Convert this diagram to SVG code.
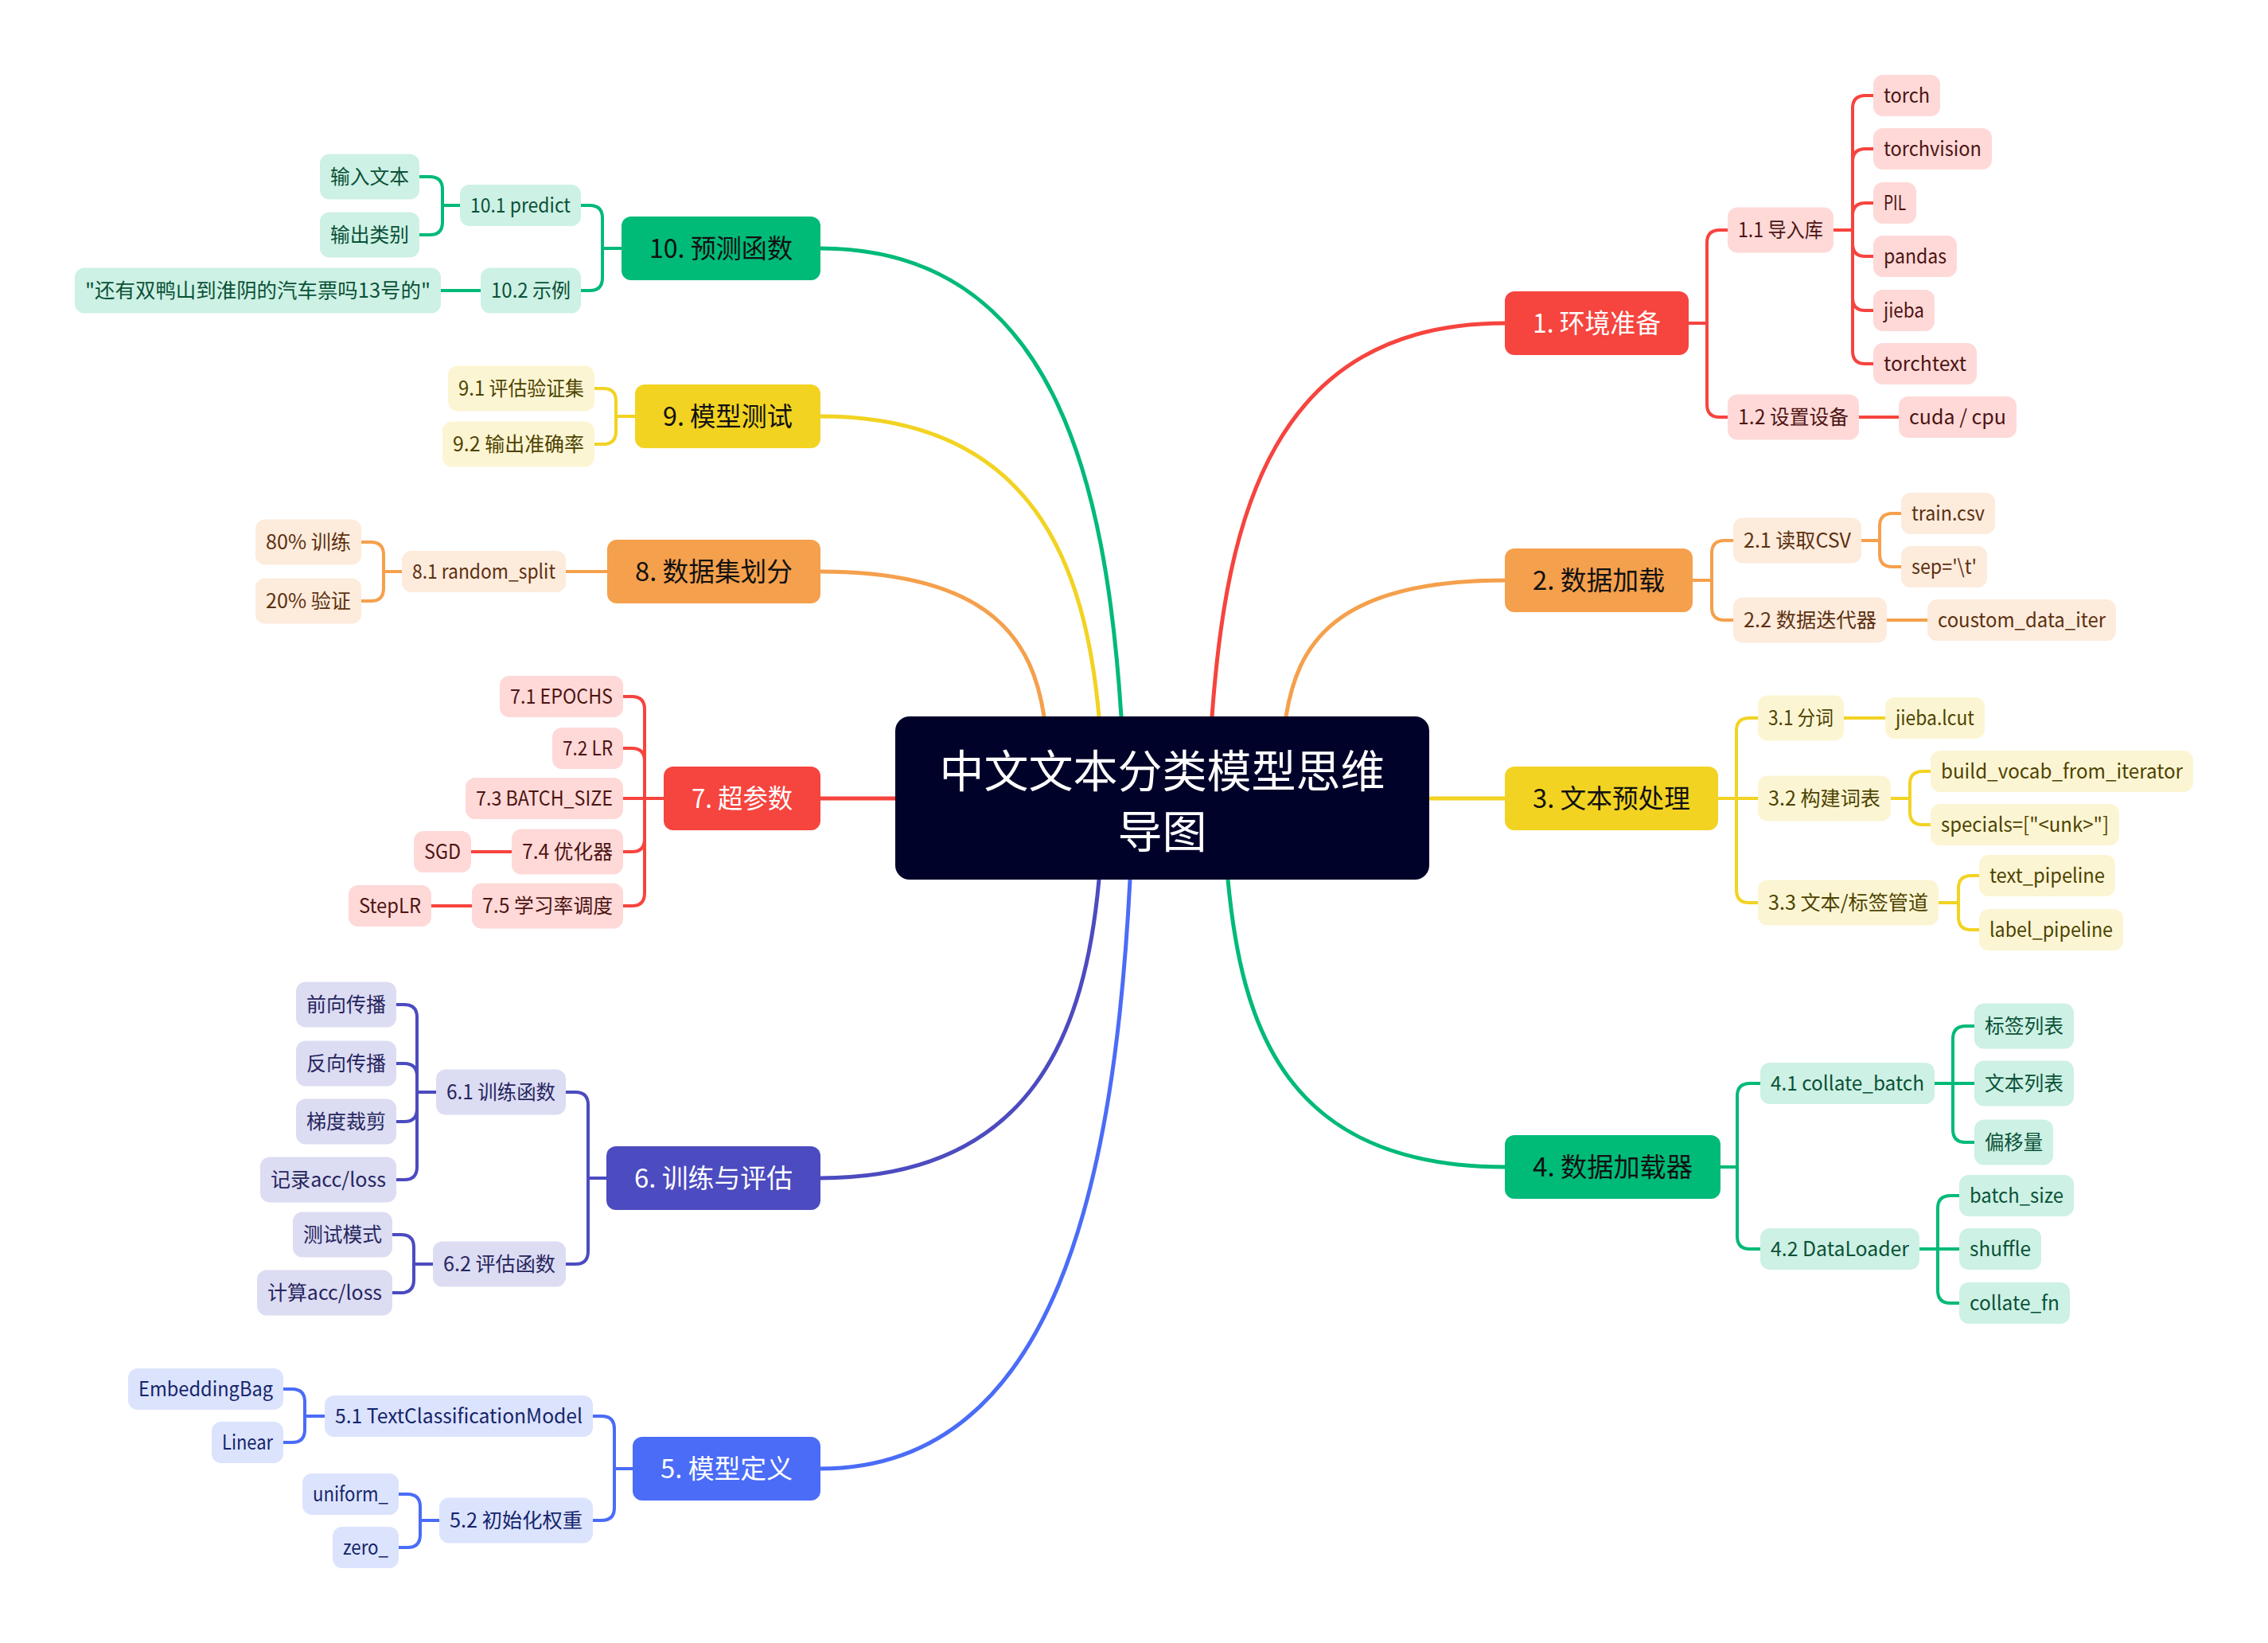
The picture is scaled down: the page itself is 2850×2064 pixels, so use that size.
<svg xmlns="http://www.w3.org/2000/svg" width="2850" height="2064" viewBox="0 0 2850 2064">
<style>
text{font-family:"Noto Sans CJK SC","Noto Sans",sans-serif;text-anchor:middle}
.l1{font-size:33px}
.l2{font-size:25px}
.ctr{font-size:56px;fill:#ffffff}
.w{fill:#ffffff}.k{fill:#111111}
#connectors path{fill:none;stroke-linecap:round;stroke-linejoin:round}
.main{stroke-width:5}.sub{stroke-width:4}
.sr{stroke:#F6443E}.so{stroke:#F5A04C}.sy{stroke:#F2D322}.sg{stroke:#00BA78}.si{stroke:#4C4BC0}.sb{stroke:#4A6CF7}
.fr{fill:#F6443E}.fo{fill:#F5A04C}.fy{fill:#F2D322}.fg{fill:#00BA78}.fi{fill:#4C4BC0}.fb{fill:#4A6CF7}
.lr{fill:#FED9D8}.lo{fill:#FDEBDC}.ly{fill:#FCF5D3}.lg{fill:#CDF1E4}.li{fill:#DCDCF3}.lb{fill:#DCE3FD}
.tr{fill:#4D1412}.to{fill:#5C3110}.ty{fill:#4D4300}.tg{fill:#0B5138}.ti{fill:#26265E}.tb{fill:#15256B}
</style>
<rect width="2850" height="2064" fill="#ffffff"/>
<g id="connectors">
<path class="main sr" d="M1523,900 C1541,653 1597,406 1891,406"/>
<path class="main so" d="M1616,900 C1630,815 1671,729 1891,729"/>
<path class="main sy" d="M1796,1003 H1891"/>
<path class="main sg" d="M1543,1105 C1560,1286 1613,1466 1891,1466"/>
<path class="main sg" d="M1409,900 C1390,606 1325,312 1031,312"/>
<path class="main sy" d="M1381,900 C1364,712 1300,523 1031,523"/>
<path class="main so" d="M1312,900 C1298,809 1250,718 1031,718"/>
<path class="main sr" d="M1125,1003 H1031"/>
<path class="main si" d="M1381,1105 C1364,1292 1300,1480 1031,1480"/>
<path class="main sb" d="M1420,1105 C1401,1475 1330,1845 1031,1845"/>
<path class="sub sr" d="M2122,406 H2145 V305 Q2145,289 2161,289 H2171 M2122,406 H2145 V508 Q2145,524 2161,524 H2171"/>
<path class="sub sr" d="M2304,289 H2328 V136 Q2328,120 2344,120 H2354 M2328,289 V203 Q2328,187 2344,187 H2354 M2328,289 V271 Q2328,255 2344,255 H2354 M2328,289 V306 Q2328,322 2344,322 H2354 M2328,289 V374 Q2328,390 2344,390 H2354 M2328,289 V441 Q2328,457 2344,457 H2354"/>
<path class="sub sr" d="M2336,524 H2386"/>
<path class="sub so" d="M2127,729 H2151 V695 Q2151,679 2167,679 H2178 M2151,729 V763 Q2151,779 2167,779 H2178"/>
<path class="sub so" d="M2339,679 H2362 V661 Q2362,645 2378,645 H2389 M2362,679 V696 Q2362,712 2378,712 H2389"/>
<path class="sub so" d="M2371,779 H2422"/>
<path class="sub sy" d="M2159,1003 H2209 M2182,1003 V918 Q2182,902 2198,902 H2209 M2182,1003 V1118 Q2182,1134 2198,1134 H2209"/>
<path class="sub sy" d="M2317,902 H2369"/>
<path class="sub sy" d="M2376,1003 H2400 V985 Q2400,969 2416,969 H2426 M2400,1003 V1020 Q2400,1036 2416,1036 H2426"/>
<path class="sub sy" d="M2436,1134 H2461 V1116 Q2461,1100 2477,1100 H2487 M2461,1134 V1152 Q2461,1168 2477,1168 H2487"/>
<path class="sub sg" d="M2162,1466 H2183 V1377 Q2183,1361 2199,1361 H2212 M2183,1466 V1553 Q2183,1569 2199,1569 H2212"/>
<path class="sub sg" d="M2431,1361 H2481 M2454,1361 V1305 Q2454,1289 2470,1289 H2481 M2454,1361 V1419 Q2454,1435 2470,1435 H2481"/>
<path class="sub sg" d="M2412,1569 H2462 M2435,1569 V1518 Q2435,1502 2451,1502 H2462 M2435,1569 V1621 Q2435,1637 2451,1637 H2462"/>
<path class="sub sg" d="M781,312 H757 V274 Q757,258 741,258 H730 M757,312 V349 Q757,365 741,365 H730"/>
<path class="sub sg" d="M578,258 H556 V238 Q556,222 540,222 H527 M556,258 V279 Q556,295 540,295 H527"/>
<path class="sub sg" d="M604,365 H554"/>
<path class="sub sy" d="M798,523 H774 V504 Q774,488 758,488 H747 M774,523 V542 Q774,558 758,558 H747"/>
<path class="sub so" d="M763,718 H711"/>
<path class="sub so" d="M505,718 H482 V697 Q482,681 466,681 H454 M482,718 V739 Q482,755 466,755 H454"/>
<path class="sub sr" d="M834,1003 H783 M810,1003 V891 Q810,875 794,875 H783 M810,1003 V956 Q810,940 794,940 H783 M810,1003 V1054 Q810,1070 794,1070 H783 M810,1003 V1122 Q810,1138 794,1138 H783"/>
<path class="sub sr" d="M643,1070 H592 M593,1138 H542"/>
<path class="sub si" d="M762,1480 H739 V1388 Q739,1372 723,1372 H711 M739,1480 V1572 Q739,1588 723,1588 H711"/>
<path class="sub si" d="M548,1372 H524 V1278 Q524,1262 508,1262 H498 M524,1372 V1352 Q524,1336 508,1336 H498 M524,1372 V1393 Q524,1409 508,1409 H498 M524,1372 V1466 Q524,1482 508,1482 H498"/>
<path class="sub si" d="M544,1588 H520 V1567 Q520,1551 504,1551 H493 M520,1588 V1608 Q520,1624 504,1624 H493"/>
<path class="sub sb" d="M795,1845 H772 V1795 Q772,1779 756,1779 H745 M772,1845 V1894 Q772,1910 756,1910 H745"/>
<path class="sub sb" d="M408,1779 H383 V1761 Q383,1745 367,1745 H356 M383,1779 V1796 Q383,1812 367,1812 H356"/>
<path class="sub sb" d="M552,1910 H528 V1893 Q528,1877 512,1877 H501 M528,1910 V1928 Q528,1944 512,1944 H501"/>
</g>
<g id="center"><rect x="1125" y="900" width="671" height="205" rx="18" fill="#000229"/><text class="ctr" x="1460.5" y="989">中文文本分类模型思维</text><text class="ctr" x="1460.5" y="1065">导图</text></g>
<g id="n1"><rect class="fr" x="1891" y="366" width="231" height="80" rx="12"/><text class="l1 w" x="2006.5" y="418" textLength="161" lengthAdjust="spacingAndGlyphs">1. 环境准备</text></g>
<g id="n1-1"><rect class="lr" x="2171" y="260.5" width="133" height="57" rx="12"/><text class="l2 tr" x="2237.5" y="298" textLength="107" lengthAdjust="spacingAndGlyphs">1.1 导入库</text></g>
<g id="n1-1-1"><rect class="lr" x="2354" y="94" width="84" height="52" rx="12"/><text class="l2 tr" x="2396" y="129" textLength="58" lengthAdjust="spacingAndGlyphs">torch</text></g>
<g id="n1-1-2"><rect class="lr" x="2354" y="161" width="149" height="52" rx="12"/><text class="l2 tr" x="2428.5" y="196" textLength="123" lengthAdjust="spacingAndGlyphs">torchvision</text></g>
<g id="n1-1-3"><rect class="lr" x="2354" y="229" width="54" height="52" rx="12"/><text class="l2 tr" x="2381" y="264" textLength="28" lengthAdjust="spacingAndGlyphs">PIL</text></g>
<g id="n1-1-4"><rect class="lr" x="2354" y="296" width="105" height="52" rx="12"/><text class="l2 tr" x="2406.5" y="331" textLength="79" lengthAdjust="spacingAndGlyphs">pandas</text></g>
<g id="n1-1-5"><rect class="lr" x="2354" y="364" width="77" height="52" rx="12"/><text class="l2 tr" x="2392.5" y="399" textLength="51" lengthAdjust="spacingAndGlyphs">jieba</text></g>
<g id="n1-1-6"><rect class="lr" x="2354" y="431" width="130" height="52" rx="12"/><text class="l2 tr" x="2419" y="466" textLength="104" lengthAdjust="spacingAndGlyphs">torchtext</text></g>
<g id="n1-2"><rect class="lr" x="2171" y="495.5" width="165" height="57" rx="12"/><text class="l2 tr" x="2253.5" y="533" textLength="139" lengthAdjust="spacingAndGlyphs">1.2 设置设备</text></g>
<g id="n1-2-1"><rect class="lr" x="2386" y="498" width="148" height="52" rx="12"/><text class="l2 tr" x="2460" y="533" textLength="122" lengthAdjust="spacingAndGlyphs">cuda / cpu</text></g>
<g id="n2"><rect class="fo" x="1891" y="689" width="236" height="80" rx="12"/><text class="l1 k" x="2009" y="741" textLength="166" lengthAdjust="spacingAndGlyphs">2. 数据加载</text></g>
<g id="n2-1"><rect class="lo" x="2178" y="650.5" width="161" height="57" rx="12"/><text class="l2 to" x="2258.5" y="688" textLength="135" lengthAdjust="spacingAndGlyphs">2.1 读取CSV</text></g>
<g id="n2-1-1"><rect class="lo" x="2389" y="619" width="118" height="52" rx="12"/><text class="l2 to" x="2448" y="654" textLength="92" lengthAdjust="spacingAndGlyphs">train.csv</text></g>
<g id="n2-1-2"><rect class="lo" x="2389" y="686" width="108" height="52" rx="12"/><text class="l2 to" x="2443" y="721" textLength="82" lengthAdjust="spacingAndGlyphs">sep='\t'</text></g>
<g id="n2-2"><rect class="lo" x="2178" y="750.5" width="193" height="57" rx="12"/><text class="l2 to" x="2274.5" y="788" textLength="167" lengthAdjust="spacingAndGlyphs">2.2 数据迭代器</text></g>
<g id="n2-2-1"><rect class="lo" x="2422" y="753" width="237" height="52" rx="12"/><text class="l2 to" x="2540.5" y="788" textLength="211" lengthAdjust="spacingAndGlyphs">coustom_data_iter</text></g>
<g id="n3"><rect class="fy" x="1891" y="963" width="268" height="80" rx="12"/><text class="l1 k" x="2025" y="1015" textLength="198" lengthAdjust="spacingAndGlyphs">3. 文本预处理</text></g>
<g id="n3-1"><rect class="ly" x="2209" y="873.5" width="108" height="57" rx="12"/><text class="l2 ty" x="2263" y="911" textLength="82" lengthAdjust="spacingAndGlyphs">3.1 分词</text></g>
<g id="n3-1-1"><rect class="ly" x="2369" y="876" width="125" height="52" rx="12"/><text class="l2 ty" x="2431.5" y="911" textLength="99" lengthAdjust="spacingAndGlyphs">jieba.lcut</text></g>
<g id="n3-2"><rect class="ly" x="2209" y="974.5" width="167" height="57" rx="12"/><text class="l2 ty" x="2292.5" y="1012" textLength="141" lengthAdjust="spacingAndGlyphs">3.2 构建词表</text></g>
<g id="n3-2-1"><rect class="ly" x="2426" y="943" width="330" height="52" rx="12"/><text class="l2 ty" x="2591" y="978" textLength="304" lengthAdjust="spacingAndGlyphs">build_vocab_from_iterator</text></g>
<g id="n3-2-2"><rect class="ly" x="2426" y="1010" width="237" height="52" rx="12"/><text class="l2 ty" x="2544.5" y="1045" textLength="211" lengthAdjust="spacingAndGlyphs">specials=["&lt;unk&gt;"]</text></g>
<g id="n3-3"><rect class="ly" x="2209" y="1105.5" width="227" height="57" rx="12"/><text class="l2 ty" x="2322.5" y="1143" textLength="201" lengthAdjust="spacingAndGlyphs">3.3 文本/标签管道</text></g>
<g id="n3-3-1"><rect class="ly" x="2487" y="1074" width="171" height="52" rx="12"/><text class="l2 ty" x="2572.5" y="1109" textLength="145" lengthAdjust="spacingAndGlyphs">text_pipeline</text></g>
<g id="n3-3-2"><rect class="ly" x="2487" y="1142" width="181" height="52" rx="12"/><text class="l2 ty" x="2577.5" y="1177" textLength="155" lengthAdjust="spacingAndGlyphs">label_pipeline</text></g>
<g id="n4"><rect class="fg" x="1891" y="1426" width="271" height="80" rx="12"/><text class="l1 k" x="2026.5" y="1478" textLength="201" lengthAdjust="spacingAndGlyphs">4. 数据加载器</text></g>
<g id="n4-1"><rect class="lg" x="2212" y="1335" width="219" height="52" rx="12"/><text class="l2 tg" x="2321.5" y="1370" textLength="193" lengthAdjust="spacingAndGlyphs">4.1 collate_batch</text></g>
<g id="n4-1-1"><rect class="lg" x="2481" y="1260.5" width="125" height="57" rx="12"/><text class="l2 tg" x="2543.5" y="1298" textLength="99" lengthAdjust="spacingAndGlyphs">标签列表</text></g>
<g id="n4-1-2"><rect class="lg" x="2481" y="1332.5" width="125" height="57" rx="12"/><text class="l2 tg" x="2543.5" y="1370" textLength="99" lengthAdjust="spacingAndGlyphs">文本列表</text></g>
<g id="n4-1-3"><rect class="lg" x="2481" y="1406.5" width="99" height="57" rx="12"/><text class="l2 tg" x="2530.5" y="1444" textLength="73" lengthAdjust="spacingAndGlyphs">偏移量</text></g>
<g id="n4-2"><rect class="lg" x="2212" y="1543" width="200" height="52" rx="12"/><text class="l2 tg" x="2312" y="1578" textLength="174" lengthAdjust="spacingAndGlyphs">4.2 DataLoader</text></g>
<g id="n4-2-1"><rect class="lg" x="2462" y="1476" width="144" height="52" rx="12"/><text class="l2 tg" x="2534" y="1511" textLength="118" lengthAdjust="spacingAndGlyphs">batch_size</text></g>
<g id="n4-2-2"><rect class="lg" x="2462" y="1543" width="103" height="52" rx="12"/><text class="l2 tg" x="2513.5" y="1578" textLength="77" lengthAdjust="spacingAndGlyphs">shuffle</text></g>
<g id="n4-2-3"><rect class="lg" x="2462" y="1611" width="139" height="52" rx="12"/><text class="l2 tg" x="2531.5" y="1646" textLength="113" lengthAdjust="spacingAndGlyphs">collate_fn</text></g>
<g id="n5"><rect class="fb" x="795" y="1805" width="236" height="80" rx="12"/><text class="l1 w" x="913" y="1857" textLength="166" lengthAdjust="spacingAndGlyphs">5. 模型定义</text></g>
<g id="n5-1"><rect class="lb" x="408" y="1753" width="337" height="52" rx="12"/><text class="l2 tb" x="576.5" y="1788" textLength="311" lengthAdjust="spacingAndGlyphs">5.1 TextClassificationModel</text></g>
<g id="n5-1-1"><rect class="lb" x="161" y="1719" width="195" height="52" rx="12"/><text class="l2 tb" x="258.5" y="1754" textLength="169" lengthAdjust="spacingAndGlyphs">EmbeddingBag</text></g>
<g id="n5-1-2"><rect class="lb" x="266" y="1786" width="90" height="52" rx="12"/><text class="l2 tb" x="311" y="1821" textLength="64" lengthAdjust="spacingAndGlyphs">Linear</text></g>
<g id="n5-2"><rect class="lb" x="552" y="1881.5" width="193" height="57" rx="12"/><text class="l2 tb" x="648.5" y="1919" textLength="167" lengthAdjust="spacingAndGlyphs">5.2 初始化权重</text></g>
<g id="n5-2-1"><rect class="lb" x="380" y="1851" width="121" height="52" rx="12"/><text class="l2 tb" x="440.5" y="1886" textLength="95" lengthAdjust="spacingAndGlyphs">uniform_</text></g>
<g id="n5-2-2"><rect class="lb" x="418" y="1918" width="83" height="52" rx="12"/><text class="l2 tb" x="459.5" y="1953" textLength="57" lengthAdjust="spacingAndGlyphs">zero_</text></g>
<g id="n6"><rect class="fi" x="762" y="1440" width="269" height="80" rx="12"/><text class="l1 w" x="896.5" y="1492" textLength="199" lengthAdjust="spacingAndGlyphs">6. 训练与评估</text></g>
<g id="n6-1"><rect class="li" x="548" y="1343.5" width="163" height="57" rx="12"/><text class="l2 ti" x="629.5" y="1381" textLength="137" lengthAdjust="spacingAndGlyphs">6.1 训练函数</text></g>
<g id="n6-1-1"><rect class="li" x="372" y="1233.5" width="126" height="57" rx="12"/><text class="l2 ti" x="435" y="1271" textLength="100" lengthAdjust="spacingAndGlyphs">前向传播</text></g>
<g id="n6-1-2"><rect class="li" x="372" y="1307.5" width="126" height="57" rx="12"/><text class="l2 ti" x="435" y="1345" textLength="100" lengthAdjust="spacingAndGlyphs">反向传播</text></g>
<g id="n6-1-3"><rect class="li" x="372" y="1380.5" width="126" height="57" rx="12"/><text class="l2 ti" x="435" y="1418" textLength="100" lengthAdjust="spacingAndGlyphs">梯度裁剪</text></g>
<g id="n6-1-4"><rect class="li" x="327" y="1453.5" width="171" height="57" rx="12"/><text class="l2 ti" x="412.5" y="1491" textLength="145" lengthAdjust="spacingAndGlyphs">记录acc/loss</text></g>
<g id="n6-2"><rect class="li" x="544" y="1559.5" width="167" height="57" rx="12"/><text class="l2 ti" x="627.5" y="1597" textLength="141" lengthAdjust="spacingAndGlyphs">6.2 评估函数</text></g>
<g id="n6-2-1"><rect class="li" x="368" y="1522.5" width="125" height="57" rx="12"/><text class="l2 ti" x="430.5" y="1560" textLength="99" lengthAdjust="spacingAndGlyphs">测试模式</text></g>
<g id="n6-2-2"><rect class="li" x="323" y="1595.5" width="170" height="57" rx="12"/><text class="l2 ti" x="408" y="1633" textLength="144" lengthAdjust="spacingAndGlyphs">计算acc/loss</text></g>
<g id="n7"><rect class="fr" x="834" y="963" width="197" height="80" rx="12"/><text class="l1 w" x="932.5" y="1015" textLength="127" lengthAdjust="spacingAndGlyphs">7. 超参数</text></g>
<g id="n7-1"><rect class="lr" x="628" y="849" width="155" height="52" rx="12"/><text class="l2 tr" x="705.5" y="884" textLength="129" lengthAdjust="spacingAndGlyphs">7.1 EPOCHS</text></g>
<g id="n7-2"><rect class="lr" x="694" y="914" width="89" height="52" rx="12"/><text class="l2 tr" x="738.5" y="949" textLength="63" lengthAdjust="spacingAndGlyphs">7.2 LR</text></g>
<g id="n7-3"><rect class="lr" x="585" y="977" width="198" height="52" rx="12"/><text class="l2 tr" x="684" y="1012" textLength="172" lengthAdjust="spacingAndGlyphs">7.3 BATCH_SIZE</text></g>
<g id="n7-4"><rect class="lr" x="643" y="1041.5" width="140" height="57" rx="12"/><text class="l2 tr" x="713" y="1079" textLength="114" lengthAdjust="spacingAndGlyphs">7.4 优化器</text></g>
<g id="n7-4-1"><rect class="lr" x="520" y="1044" width="72" height="52" rx="12"/><text class="l2 tr" x="556" y="1079" textLength="46" lengthAdjust="spacingAndGlyphs">SGD</text></g>
<g id="n7-5"><rect class="lr" x="593" y="1109.5" width="190" height="57" rx="12"/><text class="l2 tr" x="688" y="1147" textLength="164" lengthAdjust="spacingAndGlyphs">7.5 学习率调度</text></g>
<g id="n7-5-1"><rect class="lr" x="438" y="1112" width="104" height="52" rx="12"/><text class="l2 tr" x="490" y="1147" textLength="78" lengthAdjust="spacingAndGlyphs">StepLR</text></g>
<g id="n8"><rect class="fo" x="763" y="678" width="268" height="80" rx="12"/><text class="l1 k" x="897" y="730" textLength="198" lengthAdjust="spacingAndGlyphs">8. 数据集划分</text></g>
<g id="n8-1"><rect class="lo" x="505" y="692" width="206" height="52" rx="12"/><text class="l2 to" x="608" y="727" textLength="180" lengthAdjust="spacingAndGlyphs">8.1 random_split</text></g>
<g id="n8-1-1"><rect class="lo" x="321" y="652.5" width="133" height="57" rx="12"/><text class="l2 to" x="387.5" y="690" textLength="107" lengthAdjust="spacingAndGlyphs">80% 训练</text></g>
<g id="n8-1-2"><rect class="lo" x="321" y="726.5" width="133" height="57" rx="12"/><text class="l2 to" x="387.5" y="764" textLength="107" lengthAdjust="spacingAndGlyphs">20% 验证</text></g>
<g id="n9"><rect class="fy" x="798" y="483" width="233" height="80" rx="12"/><text class="l1 k" x="914.5" y="535" textLength="163" lengthAdjust="spacingAndGlyphs">9. 模型测试</text></g>
<g id="n9-1"><rect class="ly" x="563" y="459.5" width="184" height="57" rx="12"/><text class="l2 ty" x="655" y="497" textLength="158" lengthAdjust="spacingAndGlyphs">9.1 评估验证集</text></g>
<g id="n9-2"><rect class="ly" x="556" y="529.5" width="191" height="57" rx="12"/><text class="l2 ty" x="651.5" y="567" textLength="165" lengthAdjust="spacingAndGlyphs">9.2 输出准确率</text></g>
<g id="n10"><rect class="fg" x="781" y="272" width="250" height="80" rx="12"/><text class="l1 k" x="906" y="324" textLength="180" lengthAdjust="spacingAndGlyphs">10. 预测函数</text></g>
<g id="n10-1"><rect class="lg" x="578" y="232" width="152" height="52" rx="12"/><text class="l2 tg" x="654" y="267" textLength="126" lengthAdjust="spacingAndGlyphs">10.1 predict</text></g>
<g id="n10-1-1"><rect class="lg" x="402" y="193.5" width="125" height="57" rx="12"/><text class="l2 tg" x="464.5" y="231" textLength="99" lengthAdjust="spacingAndGlyphs">输入文本</text></g>
<g id="n10-1-2"><rect class="lg" x="402" y="266.5" width="125" height="57" rx="12"/><text class="l2 tg" x="464.5" y="304" textLength="99" lengthAdjust="spacingAndGlyphs">输出类别</text></g>
<g id="n10-2"><rect class="lg" x="604" y="336.5" width="126" height="57" rx="12"/><text class="l2 tg" x="667" y="374" textLength="100" lengthAdjust="spacingAndGlyphs">10.2 示例</text></g>
<g id="n10-2-1"><rect class="lg" x="94" y="336.5" width="460" height="57" rx="12"/><text class="l2 tg" x="324" y="374" textLength="434" lengthAdjust="spacingAndGlyphs">"还有双鸭山到淮阴的汽车票吗13号的"</text></g>
</svg>
